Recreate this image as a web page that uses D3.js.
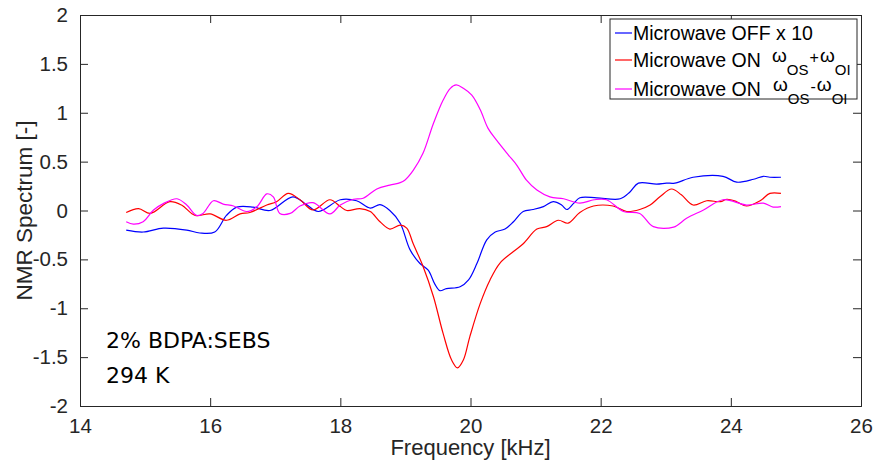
<!DOCTYPE html>
<html>
<head>
<meta charset="utf-8">
<script src="https://cdn.jsdelivr.net/npm/d3@7"></script>
<style>
  body { margin: 0; background: #fff; }
  svg { display: block; font-family: "Liberation Sans", Arial, sans-serif; }
</style>
</head>
<body>
<div id="chart"></div>
<script>
// Microwave OFF (x 10)
const offFreq = [14.71, 14.97, 15.28, 15.64, 15.84, 16.07, 16.25, 16.41, 16.66, 16.92, 17.27, 17.48, 17.66, 18.0, 18.25, 18.46, 18.61, 18.76, 18.92, 19.07, 19.22, 19.35, 19.45, 19.53, 19.63, 19.84, 19.97, 20.10, 20.25, 20.38, 20.53, 20.66, 20.81, 20.96, 21.12, 21.27, 21.40, 21.48, 21.58, 21.68, 21.94, 22.30, 22.45, 22.58, 22.86, 23.01, 23.14, 23.42, 23.88, 24.09, 24.35, 24.50, 24.60, 24.77]
const offVal = [-0.20, -0.22, -0.18, -0.20, -0.23, -0.22, -0.05, 0.035, 0.035, 0.0, 0.14, 0.06, -0.01, 0.11, 0.10, 0.025, 0.06, 0.0, -0.13, -0.40, -0.54, -0.61, -0.75, -0.82, -0.80, -0.78, -0.71, -0.54, -0.30, -0.22, -0.19, -0.115, -0.01, 0.01, 0.04, 0.09, 0.056, 0.01, 0.07, 0.13, 0.13, 0.12, 0.19, 0.28, 0.27, 0.28, 0.28, 0.34, 0.35, 0.29, 0.32, 0.35, 0.34, 0.34]

// Microwave ON, w_OS + w_OI
const plusFreq = [14.71, 14.90, 15.08, 15.38, 15.56, 15.77, 16.0, 16.25, 16.46, 16.61, 16.87, 17.02, 17.20, 17.38, 17.58, 17.84, 18.0, 18.10, 18.30, 18.46, 18.61, 18.76, 18.92, 19.02, 19.12, 19.27, 19.43, 19.58, 19.71, 19.80, 19.89, 19.99, 20.15, 20.30, 20.45, 20.66, 20.81, 21.02, 21.17, 21.35, 21.50, 21.68, 21.89, 22.19, 22.40, 22.60, 22.76, 22.91, 23.09, 23.24, 23.42, 23.63, 23.84, 23.94, 24.09, 24.24, 24.45, 24.60, 24.77]
const plusVal = [-0.02, 0.02, -0.03, 0.09, 0.056, -0.05, -0.035, -0.10, -0.035, -0.02, 0.056, 0.09, 0.175, 0.11, 0.005, 0.11, 0.04, 0.0, 0.02, -0.01, -0.115, -0.19, -0.15, -0.18, -0.34, -0.57, -0.88, -1.26, -1.53, -1.61, -1.53, -1.29, -0.95, -0.71, -0.54, -0.42, -0.34, -0.19, -0.165, -0.10, -0.13, -0.02, 0.046, 0.046, -0.01, 0.01, 0.056, 0.14, 0.22, 0.16, 0.056, 0.10, 0.09, 0.115, 0.09, 0.046, 0.10, 0.175, 0.175]

// Microwave ON, w_OS - w_OI
const minusFreq = [14.71, 14.82, 14.97, 15.13, 15.28, 15.49, 15.64, 15.79, 15.89, 16.05, 16.20, 16.36, 16.56, 16.72, 16.87, 16.97, 17.07, 17.23, 17.38, 17.58, 17.84, 18.0, 18.20, 18.35, 18.56, 18.76, 18.92, 18.99, 19.12, 19.27, 19.43, 19.58, 19.69, 19.78, 19.89, 20.02, 20.15, 20.27, 20.40, 20.58, 20.71, 20.86, 21.02, 21.22, 21.43, 21.68, 21.90, 22.09, 22.35, 22.60, 22.81, 23.12, 23.32, 23.58, 23.88, 24.24, 24.50, 24.65, 24.77]
const minusVal = [-0.115, -0.14, -0.115, 0.005, 0.07, 0.12, 0.056, -0.05, -0.03, 0.10, 0.066, 0.046, -0.01, 0.04, 0.17, 0.14, -0.03, -0.03, 0.046, 0.08, -0.035, 0.056, 0.115, 0.125, 0.22, 0.26, 0.285, 0.31, 0.41, 0.585, 0.89, 1.13, 1.25, 1.285, 1.25, 1.18, 1.03, 0.84, 0.72, 0.57, 0.465, 0.31, 0.21, 0.14, 0.12, 0.075, 0.11, 0.11, -0.01, -0.03, -0.165, -0.17, -0.08, 0.005, 0.11, 0.056, 0.075, 0.035, 0.04]

const xTicks = [14, 16, 18, 20, 22, 24, 26]
const yTicks = [-2, -1.5, -1, -0.5, 0, 0.5, 1, 1.5, 2]

const series = [
  { name: 'off', freq: offFreq, val: offVal, color: '#0000ff' },
  { name: 'plus', freq: plusFreq, val: plusVal, color: '#ff0000' },
  { name: 'minus', freq: minusFreq, val: minusVal, color: '#ff00ff' }
]

const width = 876
const height = 466
const margin = { top: 15, right: 15, bottom: 60, left: 80 }
const innerW = 861 - margin.left
const innerH = 406 - margin.top
const axisColor = '#262626'

const svg = d3.select('#chart').append('svg')
  .attr('width', width)
  .attr('height', height)

const g = svg.append('g')
  .attr('transform', `translate(${margin.left},${margin.top})`)

const x = d3.scaleLinear().domain([14, 26]).range([0, innerW])
const y = d3.scaleLinear().domain([-2, 2]).range([innerH, 0])

// --- LINES ---
const line = d3.line()
  .x(d => x(d[0]))
  .y(d => y(d[1]))
  .curve(d3.curveCatmullRom.alpha(0.5))

series.forEach(s => {
  const pts = s.freq.map((f, i) => [f, s.val[i]])
  g.append('path')
    .datum(pts)
    .attr('d', line)
    .attr('fill', 'none')
    .attr('stroke', s.color)
    .attr('stroke-width', 1.2)
})

// --- AXES (MATLAB style: ticks inside, box on) ---
const tickLen = 8
g.append('g')
  .attr('transform', `translate(0,${innerH})`)
  .call(d3.axisBottom(x).tickValues(xTicks).tickSize(-tickLen).tickPadding(tickLen + 4).tickFormat(d3.format('d')))
g.append('g')
  .call(d3.axisLeft(y).tickValues(yTicks).tickSize(-tickLen).tickPadding(tickLen + 4).tickFormat(d => String(d)))

// top and right edges, with ticks
g.append('g')
  .call(d3.axisTop(x).tickValues(xTicks).tickSize(-tickLen).tickFormat(''))
g.append('g')
  .attr('transform', `translate(${innerW},0)`)
  .call(d3.axisRight(y).tickValues(yTicks).tickSize(-tickLen).tickFormat(''))

g.selectAll('.domain, .tick line').attr('stroke', axisColor).attr('stroke-width', 1)
g.selectAll('.tick text')
  .attr('fill', axisColor)
  .style('font-size', '20.5px')
  .style('font-family', '"Liberation Sans", Arial, sans-serif')

// axis labels
svg.append('text')
  .attr('x', margin.left + innerW / 2)
  .attr('y', 455)
  .attr('text-anchor', 'middle')
  .attr('fill', axisColor)
  .style('font-size', '22px')
  .text('Frequency [kHz]')

svg.append('text')
  .attr('transform', `translate(32,${margin.top + innerH / 2}) rotate(-90)`)
  .attr('text-anchor', 'middle')
  .attr('fill', axisColor)
  .style('font-size', '22.5px')
  .text('NMR Spectrum [-]')

// sample annotation
const note = svg.append('g')
  .style('font-family', '"DejaVu Sans", sans-serif')
  .style('font-size', '22px')
  .attr('fill', '#000')
note.append('text').attr('x', 106).attr('y', 348).text('2% BDPA:SEBS')
note.append('text').attr('x', 106).attr('y', 383).text('294 K')

// --- LEGEND ---
const legend = svg.append('g').attr('transform', 'translate(610,19)')
legend.append('rect')
  .attr('width', 247)
  .attr('height', 80)
  .attr('fill', '#fff')
  .attr('stroke', axisColor)
  .attr('stroke-width', 1)

const rows = [
  { color: '#0000ff', ly: 14, label: 'Microwave OFF x 10', op: null },
  { color: '#ff0000', ly: 41, label: 'Microwave ON', op: '+' },
  { color: '#ff00ff', ly: 70, label: 'Microwave ON', op: '-' }
]

rows.forEach(r => {
  legend.append('line')
    .attr('x1', 5).attr('x2', 22)
    .attr('y1', r.ly).attr('y2', r.ly)
    .attr('stroke', r.color)
    .attr('stroke-width', 1.2)
  const t = legend.append('text')
    .attr('x', 23)
    .attr('y', r.ly + 6.5)
    .attr('fill', '#000')
    .style('font-size', '19.5px')
  t.append('tspan').text(r.label)
  if (r.op) {
    const base = r.ly + 6.5
    const om = legend.append('text')
      .attr('x', r.op === '+' ? 162 : 163)
      .attr('y', base - 5)
      .attr('fill', '#000')
      .style('font-size', '19px')
    om.append('tspan').text('\u03c9')
    om.append('tspan').attr('y', base + 8).style('font-size', '15px').text('OS')
    om.append('tspan').attr('y', base - 4).attr('dx', 1).style('font-size', '16px').text(r.op)
    om.append('tspan').attr('y', base - 5).attr('dx', 1).text('\u03c9')
    om.append('tspan').attr('y', base + 8).style('font-size', '15px').text('OI')
  }
})
</script>
</body>
</html>
